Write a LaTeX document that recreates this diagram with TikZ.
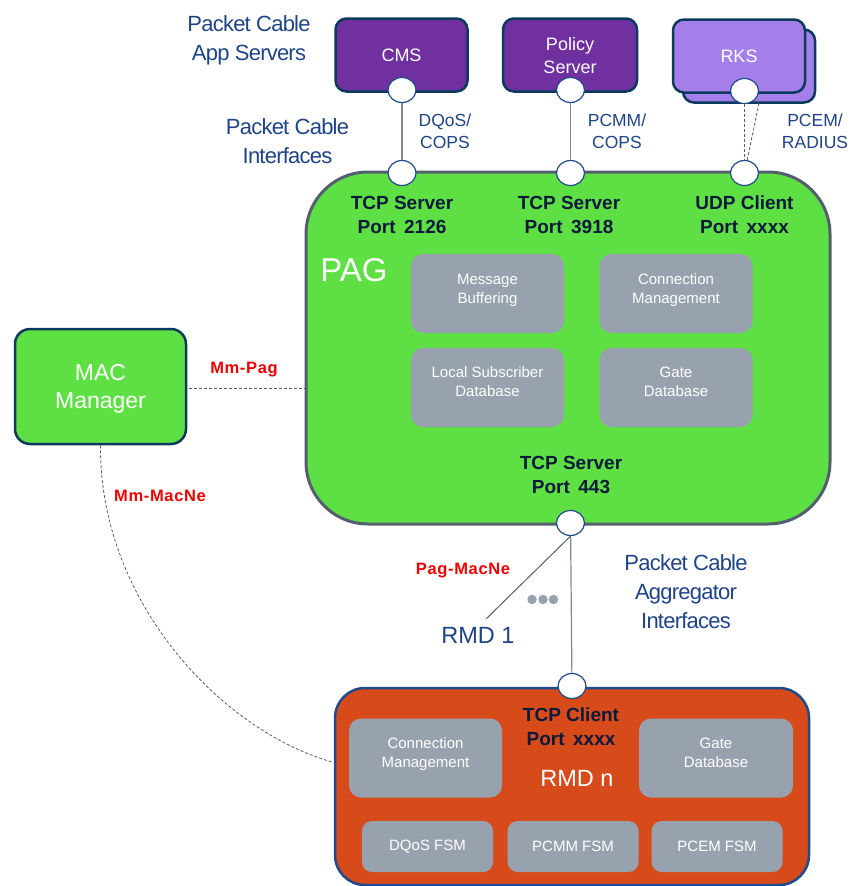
\documentclass[tikz,border=0pt]{standalone}
\usepackage{fontspec}
\setmainfont{Liberation Sans}
\usetikzlibrary{shapes.geometric}
\definecolor{purpleA}{HTML}{7030A0}
\definecolor{purpleB}{HTML}{A47FEA}
\definecolor{navyB}{HTML}{0B3A5C}
\definecolor{greenF}{HTML}{5EE045}
\definecolor{grayB}{HTML}{545F6E}
\definecolor{grayF}{HTML}{98A2AE}
\definecolor{orangeF}{HTML}{D74B1B}
\definecolor{blueB}{HTML}{1F4A8C}
\definecolor{blueT}{HTML}{1F4387}
\definecolor{darkT}{HTML}{0B1A3A}
\definecolor{redT}{HTML}{F00000}
\definecolor{lineG}{HTML}{7F8793}
\newcommand{\fsz}[1]{\fontsize{#1}{#1}\selectfont}
\newcommand{\gap}{\hspace{0.45em}}
\tikzset{
  x=1pt,y=-1pt,
  boxbase/.style={rectangle,inner sep=0pt,align=center,text=white},
  server/.style={boxbase,draw=navyB,line width=2.5pt,rounded corners=11pt,fill=purpleA,font=\fsz{18},minimum width=132pt,minimum height=73pt},
  rks/.style={server,fill=purpleB},
  inner/.style={boxbase,fill=grayF,rounded corners=12pt,font=\fontsize{15}{19}\selectfont,minimum width=153pt,minimum height=79pt},
  fsm/.style={boxbase,fill=grayF,rounded corners=10pt,font=\fsz{15},minimum width=131pt,minimum height=51pt},
  port/.style={ellipse,draw=blueB,line width=1.2pt,fill=white,inner sep=0pt,minimum width=28pt,minimum height=25pt},
  head/.style={text=blueT,align=center,inner sep=0pt,font=\fontsize{22}{29}\selectfont\addfontfeature{LetterSpace=-3.5}},
  proto/.style={text=blueT,align=center,inner sep=0pt,font=\fontsize{17.5}{22}\selectfont},
  tcp/.style={text=darkT,align=center,inner sep=0pt,font=\bfseries\fontsize{19}{24}\selectfont},
  iface/.style={text=redT,inner sep=0pt,font=\bfseries\fsz{16.5}\addfontfeature{LetterSpace=4}},
  solidlink/.style={draw=lineG,line width=1.2pt},
  dashlink/.style={draw=grayB,line width=0.8pt,dash pattern=on 3pt off 2pt},
  dot/.style={circle,fill=grayF,inner sep=0pt,minimum size=9.5pt},
}
\begin{document}
\begin{tikzpicture}
\useasboundingbox (0,0) rectangle (851,886);
% links' free ends
\coordinate (macE) at (189,388);
\coordinate (pagW) at (305,388);
\coordinate (rmdW) at (332,762);
\coordinate (rmdA) at (486,619);
\coordinate (rksB) at (759,103);
% big boxes
\node[boxbase,draw=grayB,line width=3pt,fill=greenF,rounded corners=62pt,minimum width=524pt,minimum height=352pt] (pag) at (568,348) {};
\node[boxbase,draw=blueB,line width=2.5pt,fill=orangeF,rounded corners=30pt,minimum width=474pt,minimum height=197pt] (rmdn) at (572,786.5) {};
\node[boxbase,draw=navyB,line width=2.5pt,fill=greenF,rounded corners=15pt,minimum width=171pt,minimum height=115pt,font=\fontsize{23}{28}\selectfont,text depth=0pt] (mac) at (100.5,386.5) {MAC\\Manager};
% servers
\node[server] (cms) at (401.5,55) {CMS};
\node[server,minimum width=134pt,font=\fontsize{18}{23}\selectfont,text depth=0pt] (policy) at (570,55) {Policy\\Server};
\node[rks] (rksback) at (749,66) {};
\node[rks] (rks) at (739,56) {RKS};
% PAG inner boxes
\node[inner,text depth=9pt] (buf) at (487.5,293.5) {Message\\Buffering};
\node[inner,text depth=9pt] (conn) at (676,293.5) {Connection\\Management};
\node[inner,text depth=11pt] (lsd) at (487.5,387.5) {Local Subscriber\\Database};
\node[inner,text depth=11pt] (gate) at (676,387.5) {Gate\\Database};
\node[text=white,inner sep=0pt,font=\fsz{33}] (paglabel) at (354,270) {PAG};
% RMD inner boxes
\node[inner,text depth=10pt] (rconn) at (425.5,758) {Connection\\Management};
\node[inner,minimum width=154pt,text depth=10pt] (rgate) at (716,758) {Gate\\Database};
\node[fsm] (f1) at (427.5,846.5) {DQoS FSM};
\node[fsm] (f2) at (573,846.5) {PCMM FSM};
\node[fsm] (f3) at (717,846.5) {PCEM FSM};
\node[text=white,inner sep=0pt,font=\fsz{23.5}] (rmdlabel) at (577,778) {RMD n};
% ports
\node[port] (pcms) at (402,90) {};
\node[port] (ppol) at (570.5,90) {};
\node[port] (prks) at (744.5,91) {};
\node[port] (qcms) at (402,173) {};
\node[port] (qpol) at (570.5,173) {};
\node[port] (qrks) at (744.5,173) {};
\node[port] (p443) at (570.5,523) {};
\node[port] (prmd) at (572,686) {};
% connectors
\draw[solidlink] (pcms) -- (qcms);
\draw[solidlink] (ppol) -- (qpol);
\draw[dashlink] (prks) -- (qrks);
\draw[dashlink] (rksB) -- (qrks);
\draw[solidlink] (p443) -- (prmd);
\draw[draw=grayB,line width=1pt] (p443.south) -- (rmdA);
\draw[dashlink] (macE) -- (pagW);
\draw[dashlink] (mac.south) .. controls (99,600) and (220,730) .. (rmdW);
% labels
\node[head] (t1) at (249,40.5) {Packet Cable\\App Servers};
\node[head] (t2) at (287.5,141.5) {Packet Cable\\Interfaces};
\node[head] (t3) at (686,592) {Packet Cable\\Aggregator\\Interfaces};
\node[proto] (d1) at (445,131) {DQoS/\\COPS};
\node[proto] (d2) at (617,131) {PCMM/\\COPS};
\node[proto] (d3) at (815,131) {PCEM/\\RADIUS};
\node[tcp] (s1) at (402,215) {TCP Server\\Port\gap 2126};
\node[tcp] (s2) at (569,215) {TCP Server\\Port\gap 3918};
\node[tcp] (s3) at (744.5,215) {UDP Client\\Port\gap xxxx};
\node[tcp] (s4) at (571,475) {TCP Server\\Port\gap 443};
\node[tcp] (s5) at (571,727) {TCP Client\\Port\gap xxxx};
\node[iface] (m1) at (244,370) {Mm-Pag};
\node[iface] (m2) at (160,496) {Mm-MacNe};
\node[iface] (m3) at (463,571) {Pag-MacNe};
\node[text=blueT,inner sep=0pt,font=\fsz{23.5}] (rmd1) at (478,635) {RMD 1};
\node[dot] (d1a) at (532,599.5) {};
\node[dot] (d1b) at (543,599.5) {};
\node[dot] (d1c) at (553.5,599.5) {};
\end{tikzpicture}
\end{document}
